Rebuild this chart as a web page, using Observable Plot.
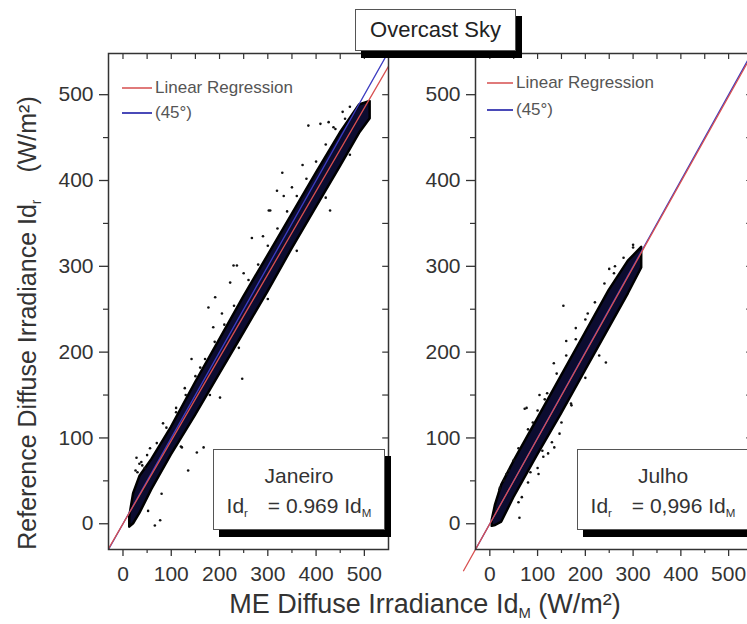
<!DOCTYPE html>
<html>
<head>
<meta charset="utf-8">
<script src="https://cdn.jsdelivr.net/npm/d3@7"></script>
<script src="https://cdn.jsdelivr.net/npm/@observablehq/plot@0.6"></script>
<style>
  html, body { margin: 0; padding: 0; background: #fff; overflow: hidden; }
  #wrap { position: relative; width: 747px; height: 624px; overflow: hidden; font-family: "Liberation Sans", Arial, sans-serif; color: #333; }
  .abs { position: absolute; }
  .box { position: absolute; background: #fff; border: 1px solid #555; box-shadow: 6px 7px 0 #000; box-sizing: border-box; text-align: center; }
  .legline { position: absolute; height: 2px; }
  .legtxt { position: absolute; font-size: 17px; color: #555; line-height: 20px; white-space: nowrap; }
  sub { font-size: 55%; vertical-align: -0.35em; line-height: 0; }
</style>
</head>
<body>
<div id="wrap"></div>
<script>
// ---------- data ----------
const xTickValues = [0, 100, 200, 300, 400, 500];
const yTickValues = [0, 100, 200, 300, 400, 500];
const minorTickValues = [50, 150, 250, 350, 450];
const frameTickValues = [0, 50, 100, 150, 200, 250, 300, 350, 400, 450, 500];
const domainX = [-30, 550];
const domainY = [-30, 548];

const panelNames = ["Janeiro", "Julho"];
const fitCoefText = ["0.969", "0,996"];
const fitSlopes = [0.969, 0.996];
const fitStarts = [-30, -55];
const legendLabels = ["Linear Regression", "(45°)"];

// Janeiro: dense cloud envelope
const janBandX  = [14, 22, 35, 60, 100, 150, 200, 250, 300, 350, 400, 450, 490, 512];
const janBandLo = [-4, 0, 12, 40, 80, 126, 174, 222, 270, 320, 368, 416, 455, 472];
const janBandHi = [8, 35, 55, 75, 112, 164, 214, 264, 312, 360, 408, 455, 488, 492];
// Janeiro: scattered points outside / on the edge of the dense cloud
const janDotX = [247, 201, 167, 153, 135, 122, 77, 66, 52, 80, 28, 45, 83, 142, 177, 160, 187,
                 384, 409, 426, 436, 330, 302, 267, 236, 222, 191, 319, 333, 429, 305, 229,
                 30, 38, 56, 110, 128, 205, 250, 290, 350, 372, 455, 470,
                 40, 50, 70, 90, 110, 130, 150, 170, 190, 210, 230, 260, 280, 300, 320, 340, 360, 380, 400, 420, 440, 460,
                 120, 180, 240, 300, 360, 420, 470, 26, 34, 44];
const janDotY = [169, 147, 89, 83, 62, 89, 4, -2, 15, 35, 77, 65, 117, 192, 252, 182, 229,
                 464, 466, 468, 462, 409, 365, 333, 301, 281, 264, 388, 382, 365, 365, 301,
                 60, 72, 88, 135, 158, 245, 292, 335, 392, 418, 480, 486,
                 68, 80, 94, 112, 130, 150, 172, 192, 212, 232, 254, 284, 302, 324, 344, 364, 382, 402, 422, 442, 460, 472,
                 90, 150, 205, 262, 318, 380, 430, 62, 70, 40];

// Julho: dense cloud envelope
const julBandX  = [5, 12, 25, 50, 100, 150, 200, 250, 290, 318];
const julBandLo = [-3, -2, 2, 30, 80, 128, 178, 228, 268, 298];
const julBandHi = [4, 22, 45, 72, 122, 172, 222, 272, 306, 322];
// Julho: scattered points
const julDotX = [154, 73, 134, 160, 104, 250, 50, 21, 243, 171, 146, 122, 102, 67, 62, 135, 229, 77,
                 90, 115, 180, 205, 262, 300, 40, 30, 85, 112,
                 20, 35, 60, 80, 100, 120, 140, 160, 180, 200, 220, 240, 260, 280, 300,
                 60, 80, 100, 110, 130, 150, 170, 200];
const julDotY = [254, 134, 187, 213, 150, 297, 74, 42, 188, 138, 105, 82, 58, 31, 7, 89, 196, 135,
                 118, 145, 228, 245, 300, 322, 62, 50, 60, 78,
                 40, 58, 88, 110, 132, 152, 175, 196, 215, 238, 258, 280, 292, 310, 325,
                 25, 48, 65, 85, 95, 118, 140, 170];

// ---------- helpers ----------
const wrap = document.getElementById("wrap");
const toRows = (xs, a, b) => xs.map((x, i) => ({x, lo: a[i], hi: b[i]}));
const toPts = (xs, ys) => xs.map((x, i) => ({x, y: ys[i]}));

function panel(opts) {
  const band = toRows(opts.bandX, opts.bandLo, opts.bandHi);
  const dots = toPts(opts.dotX, opts.dotY);
  const idLine = domainX.map(v => ({x: v, y: v}));
  const fitLine = [opts.fitStart, domainX[1]].map(v => ({x: v, y: opts.slope * v}));
  return Plot.plot({
    width: opts.width,
    height: 600,
    marginLeft: opts.marginLeft,
    marginRight: opts.marginRight,
    marginTop: 53,
    marginBottom: 51,
    x: {domain: domainX},
    y: {domain: domainY},
    style: {background: "transparent", maxWidth: "none", overflow: "visible",
            fontFamily: "'Liberation Sans', Arial, sans-serif", color: "#333"},
    marks: [
      Plot.axisY(yTickValues, {tickSize: 9, tickPadding: 6, fontSize: 21, label: null, strokeWidth: 1.3}),
      Plot.axisY(minorTickValues, {tickSize: 5, tickFormat: () => "", label: null, strokeWidth: 1.2}),
      Plot.axisX(xTickValues, {tickSize: 7, tickPadding: 10, fontSize: 21, label: null, strokeWidth: 1.3}),
      Plot.axisX(minorTickValues, {tickSize: 4, tickFormat: () => "", label: null, strokeWidth: 1.2}),
      Plot.ruleX(frameTickValues, {x: d => d, y1: domainY[1], y2: domainY[1] - 7, stroke: "#333", strokeWidth: 1.2}),
      Plot.ruleY(frameTickValues, {y: d => d, x1: domainX[1], x2: domainX[1] - 12, stroke: "#333", strokeWidth: 1.2}),
      Plot.areaY(band, {x: "x", y1: "lo", y2: "hi", fill: "#0c0c30", stroke: "#000", strokeWidth: 2.5, clip: true}),
      Plot.dot(dots, {x: "x", y: "y", r: 1.3, fill: "#111", clip: true}),
      Plot.line(idLine, {x: "x", y: "y", stroke: "#3c3cc0", strokeWidth: 1.3, clip: true}),
      Plot.line(fitLine, {x: "x", y: "y", stroke: "#d85050", strokeWidth: 1.3, clip: opts.clipFit}),
      Plot.frame({stroke: "#333", strokeWidth: 1.5})
    ]
  });
}

function place(el, left, top, w) {
  const d = document.createElement("div");
  d.className = "abs";
  d.style.left = left + "px"; d.style.top = top + "px"; d.style.width = w + "px";
  d.appendChild(el);
  wrap.appendChild(d);
}

place(panel({width: 400, marginLeft: 108, marginRight: 12, bandX: janBandX, bandLo: janBandLo, bandHi: janBandHi,
             dotX: janDotX, dotY: janDotY, slope: fitSlopes[0], fitStart: fitStarts[0], clipFit: true}), 0, 0, 400);
place(panel({width: 380, marginLeft: 95, marginRight: 8, bandX: julBandX, bandLo: julBandLo, bandHi: julBandHi,
             dotX: julDotX, dotY: julDotY, slope: fitSlopes[1], fitStart: fitStarts[1], clipFit: false}), 380, 0, 380);

// ---------- legends ----------
const legendPos = [{x: 122, y1: 88, y2: 113, len: 30}, {x: 487, y1: 83, y2: 110, len: 26}];
legendPos.forEach(p => {
  [[p.y1, "#e07a7a", legendLabels[0]], [p.y2, "#4a4ab8", legendLabels[1]]].forEach(([y, c, t]) => {
    const l = document.createElement("div");
    l.className = "legline";
    l.style.left = p.x + "px"; l.style.top = (y - 1) + "px"; l.style.width = p.len + "px"; l.style.background = c;
    wrap.appendChild(l);
    const s = document.createElement("div");
    s.className = "legtxt";
    s.style.left = (p.x + p.len + 3) + "px"; s.style.top = (y - 10) + "px";
    s.textContent = t;
    wrap.appendChild(s);
  });
});

// ---------- annotation boxes ----------
const notePos = [213, 577];
panelNames.forEach((name, i) => {
  const b = document.createElement("div");
  b.className = "box";
  b.style.left = notePos[i] + "px"; b.style.top = "449px"; b.style.width = "172px"; b.style.height = "81px";
  b.style.fontSize = "21px"; b.style.color = "#333"; b.style.lineHeight = "30px"; b.style.paddingTop = "11px";
  b.innerHTML = `<div>${name}</div><div>Id<sub style="margin-right:14px">r</sub> = ${fitCoefText[i]} Id<sub>M</sub></div>`;
  wrap.appendChild(b);
});

// ---------- title ----------
const title = document.createElement("div");
title.className = "box";
title.style.left = "355px"; title.style.top = "9px"; title.style.width = "161px"; title.style.height = "42px";
title.style.fontSize = "22px"; title.style.lineHeight = "40px"; title.style.color = "#222";
title.textContent = "Overcast Sky";
wrap.appendChild(title);

// ---------- axis titles ----------
const yLab = document.createElement("div");
yLab.className = "abs";
yLab.style.cssText += "left:27px;top:323px;font-size:25px;color:#333;white-space:nowrap;transform:translate(-50%,-50%) rotate(-90deg);";
yLab.innerHTML = 'Reference Diffuse Irradiance Id<sub style="margin-right:20px">r</sub> (W/m²)';
wrap.appendChild(yLab);

const xLab = document.createElement("div");
xLab.className = "abs";
xLab.style.cssText += "left:425px;top:604px;font-size:27px;color:#333;white-space:nowrap;transform:translate(-50%,-50%);";
xLab.innerHTML = 'ME Diffuse Irradiance Id<sub>M</sub> (W/m²)';
wrap.appendChild(xLab);
</script>
</body>
</html>
